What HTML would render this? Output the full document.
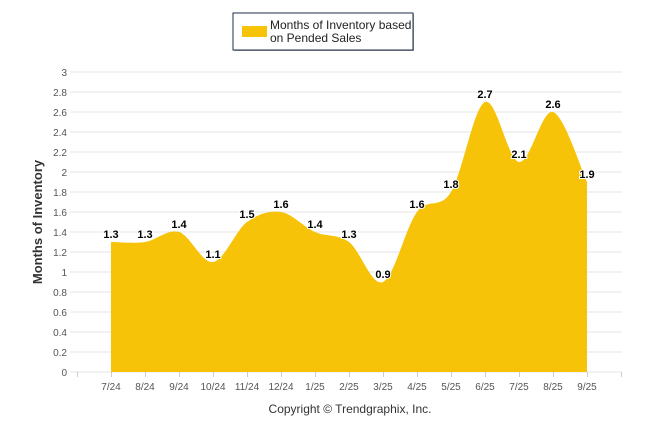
<!DOCTYPE html>
<html><head><meta charset="utf-8"><style>
body{margin:0;background:#fff;width:646px;height:434px;overflow:hidden;font-family:"Liberation Sans",sans-serif}
</style></head><body>
<svg id="chart" width="646" height="434" xmlns="http://www.w3.org/2000/svg">
<g>
<rect x="234" y="14" width="180" height="37" fill="#444" opacity="0.5"/>
<rect x="233" y="13" width="180" height="37" fill="#fff" stroke="#1f2d4d" stroke-width="1"/>
<rect x="242" y="26" width="25" height="11" fill="#f7c308"/>
<text x="270" y="29" font-size="12" fill="#222">Months of Inventory based</text>
<text x="270" y="42" font-size="12" fill="#222">on Pended Sales</text>
</g>
<g id="grid"></g>
<g id="marks"></g>
<text transform="translate(42,222) rotate(-90)" text-anchor="middle" font-size="13" font-weight="bold" fill="#333">Months of Inventory</text>
<text x="350" y="413" text-anchor="middle" font-size="12" fill="#333">Copyright © Trendgraphix, Inc.</text>
</svg>
<script>
const categories=["7/24","8/24","9/24","10/24","11/24","12/24","1/25","2/25","3/25","4/25","5/25","6/25","7/25","8/25","9/25"];
const values=[1.3,1.3,1.4,1.1,1.5,1.6,1.4,1.3,0.9,1.6,1.8,2.7,2.1,2.6,1.9];
const yTicks=[0,0.2,0.4,0.6,0.8,1,1.2,1.4,1.6,1.8,2,2.2,2.4,2.6,2.8,3];
const NS="http://www.w3.org/2000/svg";
const x=i=>111+i*34, y=v=>372-v*100;
const grid=document.getElementById('grid'), marks=document.getElementById('marks');
function mk(tag,attrs,parent,txt){const e=document.createElementNS(NS,tag);for(const k in attrs)e.setAttribute(k,attrs[k]);if(txt!==undefined)e.textContent=txt;parent.appendChild(e);return e;}
yTicks.forEach(t=>{
 const l=mk('line',{x1:70,x2:622,y1:y(t),y2:y(t),stroke:'#e6e6e6','stroke-width':1},grid);
 
 
 const tx=mk('text',{x:67,y:y(t)+4,'text-anchor':'end','font-size':10,fill:'#555'},grid,String(t));
 
 
});
for(let i=-1;i<=categories.length;i++){
 const tk=mk('line',{x1:x(i)+0.5,x2:x(i)+0.5,y1:372,y2:377,stroke:'#ccc'},grid);
 
 
}
categories.forEach((c,i)=>{
 const tx=mk('text',{x:x(i),y:390,'text-anchor':'middle','font-size':10,fill:'#555'},grid,c);
 
 
});
const pts=values.map((v,i)=>[x(i),y(v)]);
let d=`M${pts[0][0]},${y(0)} L${pts[0][0]},${pts[0][1]}`;
for(let i=0;i<pts.length-1;i++){
 const p0=pts[Math.max(0,i-1)],p1=pts[i],p2=pts[i+1],p3=pts[Math.min(pts.length-1,i+2)];
 const s=1/6;
 const c1=[p1[0]+(p2[0]-p0[0])*s,p1[1]+(p2[1]-p0[1])*s];
 const c2=[p2[0]-(p3[0]-p1[0])*s,p2[1]-(p3[1]-p1[1])*s];
 d+=` C${c1[0]},${c1[1]} ${c2[0]},${c2[1]} ${p2[0]},${p2[1]}`;
}
d+=` L${pts[pts.length-1][0]},${y(0)} Z`;
const area=mk('path',{d:d,fill:'#f7c308'},marks);


values.forEach((v,i)=>{
 const t=mk('text',{x:x(i),y:y(v)-4,'text-anchor':'middle','font-size':11,'font-weight':'bold',fill:'#000',stroke:'#fff','stroke-width':2,'paint-order':'stroke'},marks,String(v));
 
 
});
</script>
</body></html>
